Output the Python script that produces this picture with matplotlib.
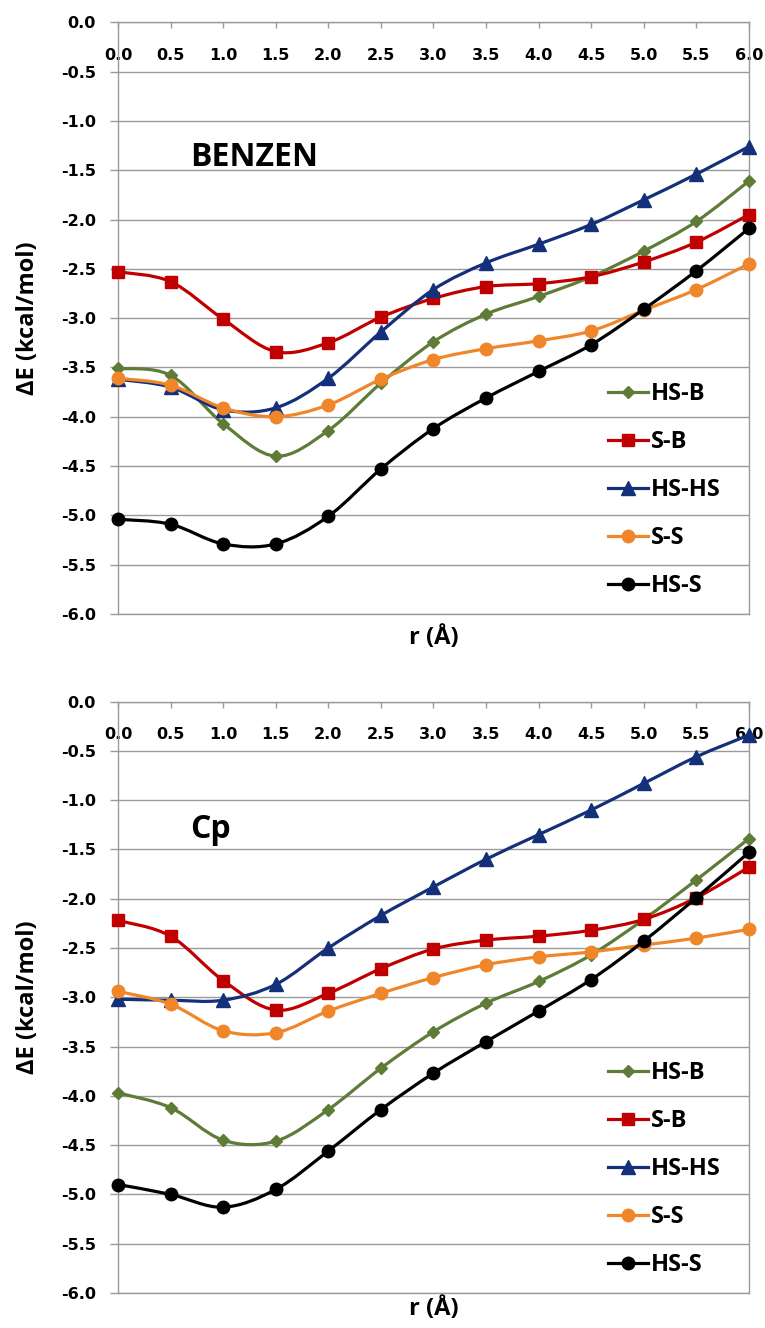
import numpy as np
import matplotlib
matplotlib.use('Agg')
import matplotlib.pyplot as plt
from matplotlib.path import Path
from matplotlib.patches import PathPatch
from matplotlib.lines import Line2D

plt.rcParams['axes.unicode_minus'] = False

# distance r (Angstrom)
r = [0.0, 0.5, 1.0, 1.5, 2.0, 2.5, 3.0, 3.5, 4.0, 4.5, 5.0, 5.5, 6.0]
series_names = ['HS-B', 'S-B', 'HS-HS', 'S-S', 'HS-S']

# BENZEN panel, dE in kcal/mol
benzen_hs_b = [-3.51, -3.58, -4.07, -4.40, -4.14, -3.66, -3.24, -2.96, -2.78, -2.58, -2.32, -2.02, -1.61]
benzen_s_b = [-2.53, -2.63, -3.01, -3.34, -3.25, -2.99, -2.80, -2.68, -2.65, -2.58, -2.43, -2.23, -1.95]
benzen_hs_hs = [-3.62, -3.70, -3.93, -3.91, -3.61, -3.14, -2.71, -2.44, -2.25, -2.05, -1.80, -1.54, -1.26]
benzen_s_s = [-3.61, -3.68, -3.91, -4.00, -3.88, -3.62, -3.42, -3.31, -3.23, -3.13, -2.92, -2.71, -2.45]
benzen_hs_s = [-5.04, -5.09, -5.29, -5.29, -5.01, -4.53, -4.12, -3.81, -3.54, -3.27, -2.91, -2.52, -2.09]

# Cp panel, dE in kcal/mol
cp_hs_b = [-3.97, -4.12, -4.45, -4.46, -4.14, -3.72, -3.35, -3.06, -2.84, -2.57, -2.21, -1.81, -1.39]
cp_s_b = [-2.22, -2.38, -2.83, -3.13, -2.96, -2.71, -2.51, -2.42, -2.38, -2.32, -2.21, -1.99, -1.68]
cp_hs_hs = [-3.02, -3.03, -3.03, -2.87, -2.50, -2.17, -1.88, -1.60, -1.35, -1.10, -0.83, -0.56, -0.34]
cp_s_s = [-2.94, -3.07, -3.34, -3.36, -3.14, -2.96, -2.80, -2.67, -2.59, -2.54, -2.47, -2.40, -2.31]
cp_hs_s = [-4.90, -5.00, -5.13, -4.95, -4.56, -4.14, -3.77, -3.45, -3.14, -2.82, -2.43, -1.99, -1.53]

colors = ['#5e7b37', '#c00000', '#15307a', '#f0862a', '#000000']
markers = ['D', 's', '^', 'o', 'o']
msizes = [6.5, 9, 10, 9, 9]
grid_color = '#9a9a9a'
label_font = 'Open Sans'


def smoothPath(x, y):
    # Excel-like smooth line: cubic bezier through the points
    pts = np.column_stack([x, y])
    ext = np.vstack([pts[0], pts, pts[-1]])
    verts = [pts[0]]
    codes = [Path.MOVETO]
    for i in range(len(pts) - 1):
        p0, p1, p2, p3 = ext[i], ext[i + 1], ext[i + 2], ext[i + 3]
        verts += [p1 + (p2 - p0) / 6, p2 - (p3 - p1) / 6, p2]
        codes += [Path.CURVE4] * 3
    return Path(verts, codes)


def drawPanel(ax, data, title, title_y, xlabel_pad):
    for k, vals in enumerate(data):
        patch = PathPatch(smoothPath(r, vals), fill=False, edgecolor=colors[k],
                          lw=2.3, zorder=3 + k, clip_on=False)
        ax.add_patch(patch)
        ax.plot(r, vals, ls='none', marker=markers[k], ms=msizes[k], color=colors[k],
                zorder=3.5 + k, clip_on=False)

    ax.set_xlim(0, 6)
    ax.set_ylim(-6, 0)
    ax.set_xticks(r)
    ax.set_xticklabels([f'{v:.1f}' for v in r])
    yt = np.arange(-6.0, 0.01, 0.5)
    ax.set_yticks(yt)
    ax.set_yticklabels([f'{v:.1f}' if abs(v) > 1e-9 else '0.0' for v in yt])

    ax.xaxis.set_ticks_position('top')
    ax.tick_params(axis='x', direction='in', length=4, width=1, color=grid_color,
                   pad=-29, labelsize=11.5)
    ax.tick_params(axis='y', direction='out', length=6, width=1, color=grid_color,
                   pad=10, labelsize=11.5)
    for lab in ax.get_xticklabels() + ax.get_yticklabels():
        lab.set_fontweight('bold')

    ax.yaxis.grid(True, color=grid_color, lw=1)
    ax.set_axisbelow(True)
    for sp in ax.spines.values():
        sp.set_color(grid_color)
        sp.set_linewidth(1)

    ax.set_ylabel('ΔE (kcal/mol)', family=label_font, fontweight='bold', fontsize=17, labelpad=15)
    ax.xaxis.set_label_position('bottom')
    ax.set_xlabel('r (Å)', family=label_font, fontweight='bold', fontsize=17, labelpad=xlabel_pad)

    ax.text(0.114, title_y, title, transform=ax.transAxes, family=label_font,
            fontweight='bold', fontsize=23, ha='left', va='center')

    handles = [Line2D([], [], color=colors[k], lw=2.3, marker=markers[k], ms=msizes[k])
               for k in range(len(series_names))]
    ax.legend(handles, series_names, loc='upper left', bbox_to_anchor=(0.758, 0.412),
              frameon=False, borderpad=0, handlelength=1.7, handletextpad=0.1,
              labelspacing=1.02, prop={'family': label_font, 'weight': 'bold', 'size': 17})


fig = plt.figure(figsize=(7.65, 13.28), dpi=100)
ax1 = fig.add_axes([0.1542, 0.5377, 0.8248, 0.4455])
ax2 = fig.add_axes([0.1542, 0.0264, 0.8248, 0.4453])

drawPanel(ax1, [benzen_hs_b, benzen_s_b, benzen_hs_hs, benzen_s_s, benzen_hs_s], 'BENZEN', 0.771, 9)
drawPanel(ax2, [cp_hs_b, cp_s_b, cp_hs_hs, cp_s_s, cp_hs_s], 'Cp', 0.783, 3)

fig.savefig('out.png', dpi=100)
